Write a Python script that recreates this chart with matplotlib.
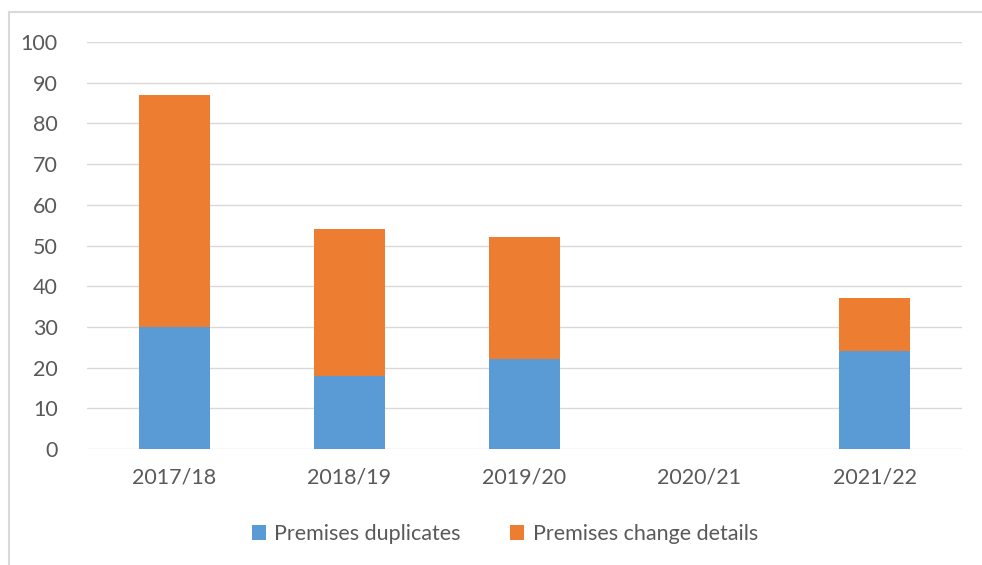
import matplotlib.pyplot as plt
from matplotlib.lines import Line2D

years = ['2017/18', '2018/19', '2019/20', '2020/21', '2021/22']
duplicates = [30, 18, 22, 0, 24]
change_details = [57, 36, 30, 0, 13]

plt.rcParams['font.family'] = ['Lato', 'DejaVu Sans']
text_col = '#595959'
grid_col = '#D9D9D9'

fig = plt.figure(figsize=(9.82, 5.65), dpi=100)
ax = fig.add_axes([87/982, 1-449/565, 875/982, 407/565])

x = list(range(len(years)))
ax.bar(x, duplicates, width=0.41, color='#5B9BD5', label='Premises duplicates', zorder=3)
ax.bar(x, change_details, width=0.41, bottom=duplicates, color='#ED7D31',
       label='Premises change details', zorder=3)

ax.set_xlim(-0.5, len(years) - 0.5)
ax.set_ylim(0, 100)
ax.set_yticks(range(0, 101, 10))
ax.set_xticks(x)
ax.set_xticklabels(years)
ax.tick_params(axis='both', length=0, labelsize=15.5, colors=text_col)
ax.tick_params(axis='y', pad=21)
ax.tick_params(axis='x', pad=13)
ax.grid(axis='y', color=grid_col, linewidth=1, zorder=0)
for s in ax.spines.values():
    s.set_visible(False)

fig.legend(loc='center', bbox_to_anchor=(505/982, 1-534/565), ncol=2, frameon=False,
           fontsize=15.5, labelcolor=text_col, handlelength=0.65, handleheight=0.65,
           handletextpad=0.4, columnspacing=2.3)

# chart border (cropped: only left and top edges visible)
fig.add_artist(Line2D([9/982, 9/982], [0, 1-12/565], color=grid_col, linewidth=1.5))
fig.add_artist(Line2D([9/982, 1], [1-12/565, 1-12/565], color=grid_col, linewidth=1.5))

fig.savefig('out.png', dpi=100)
